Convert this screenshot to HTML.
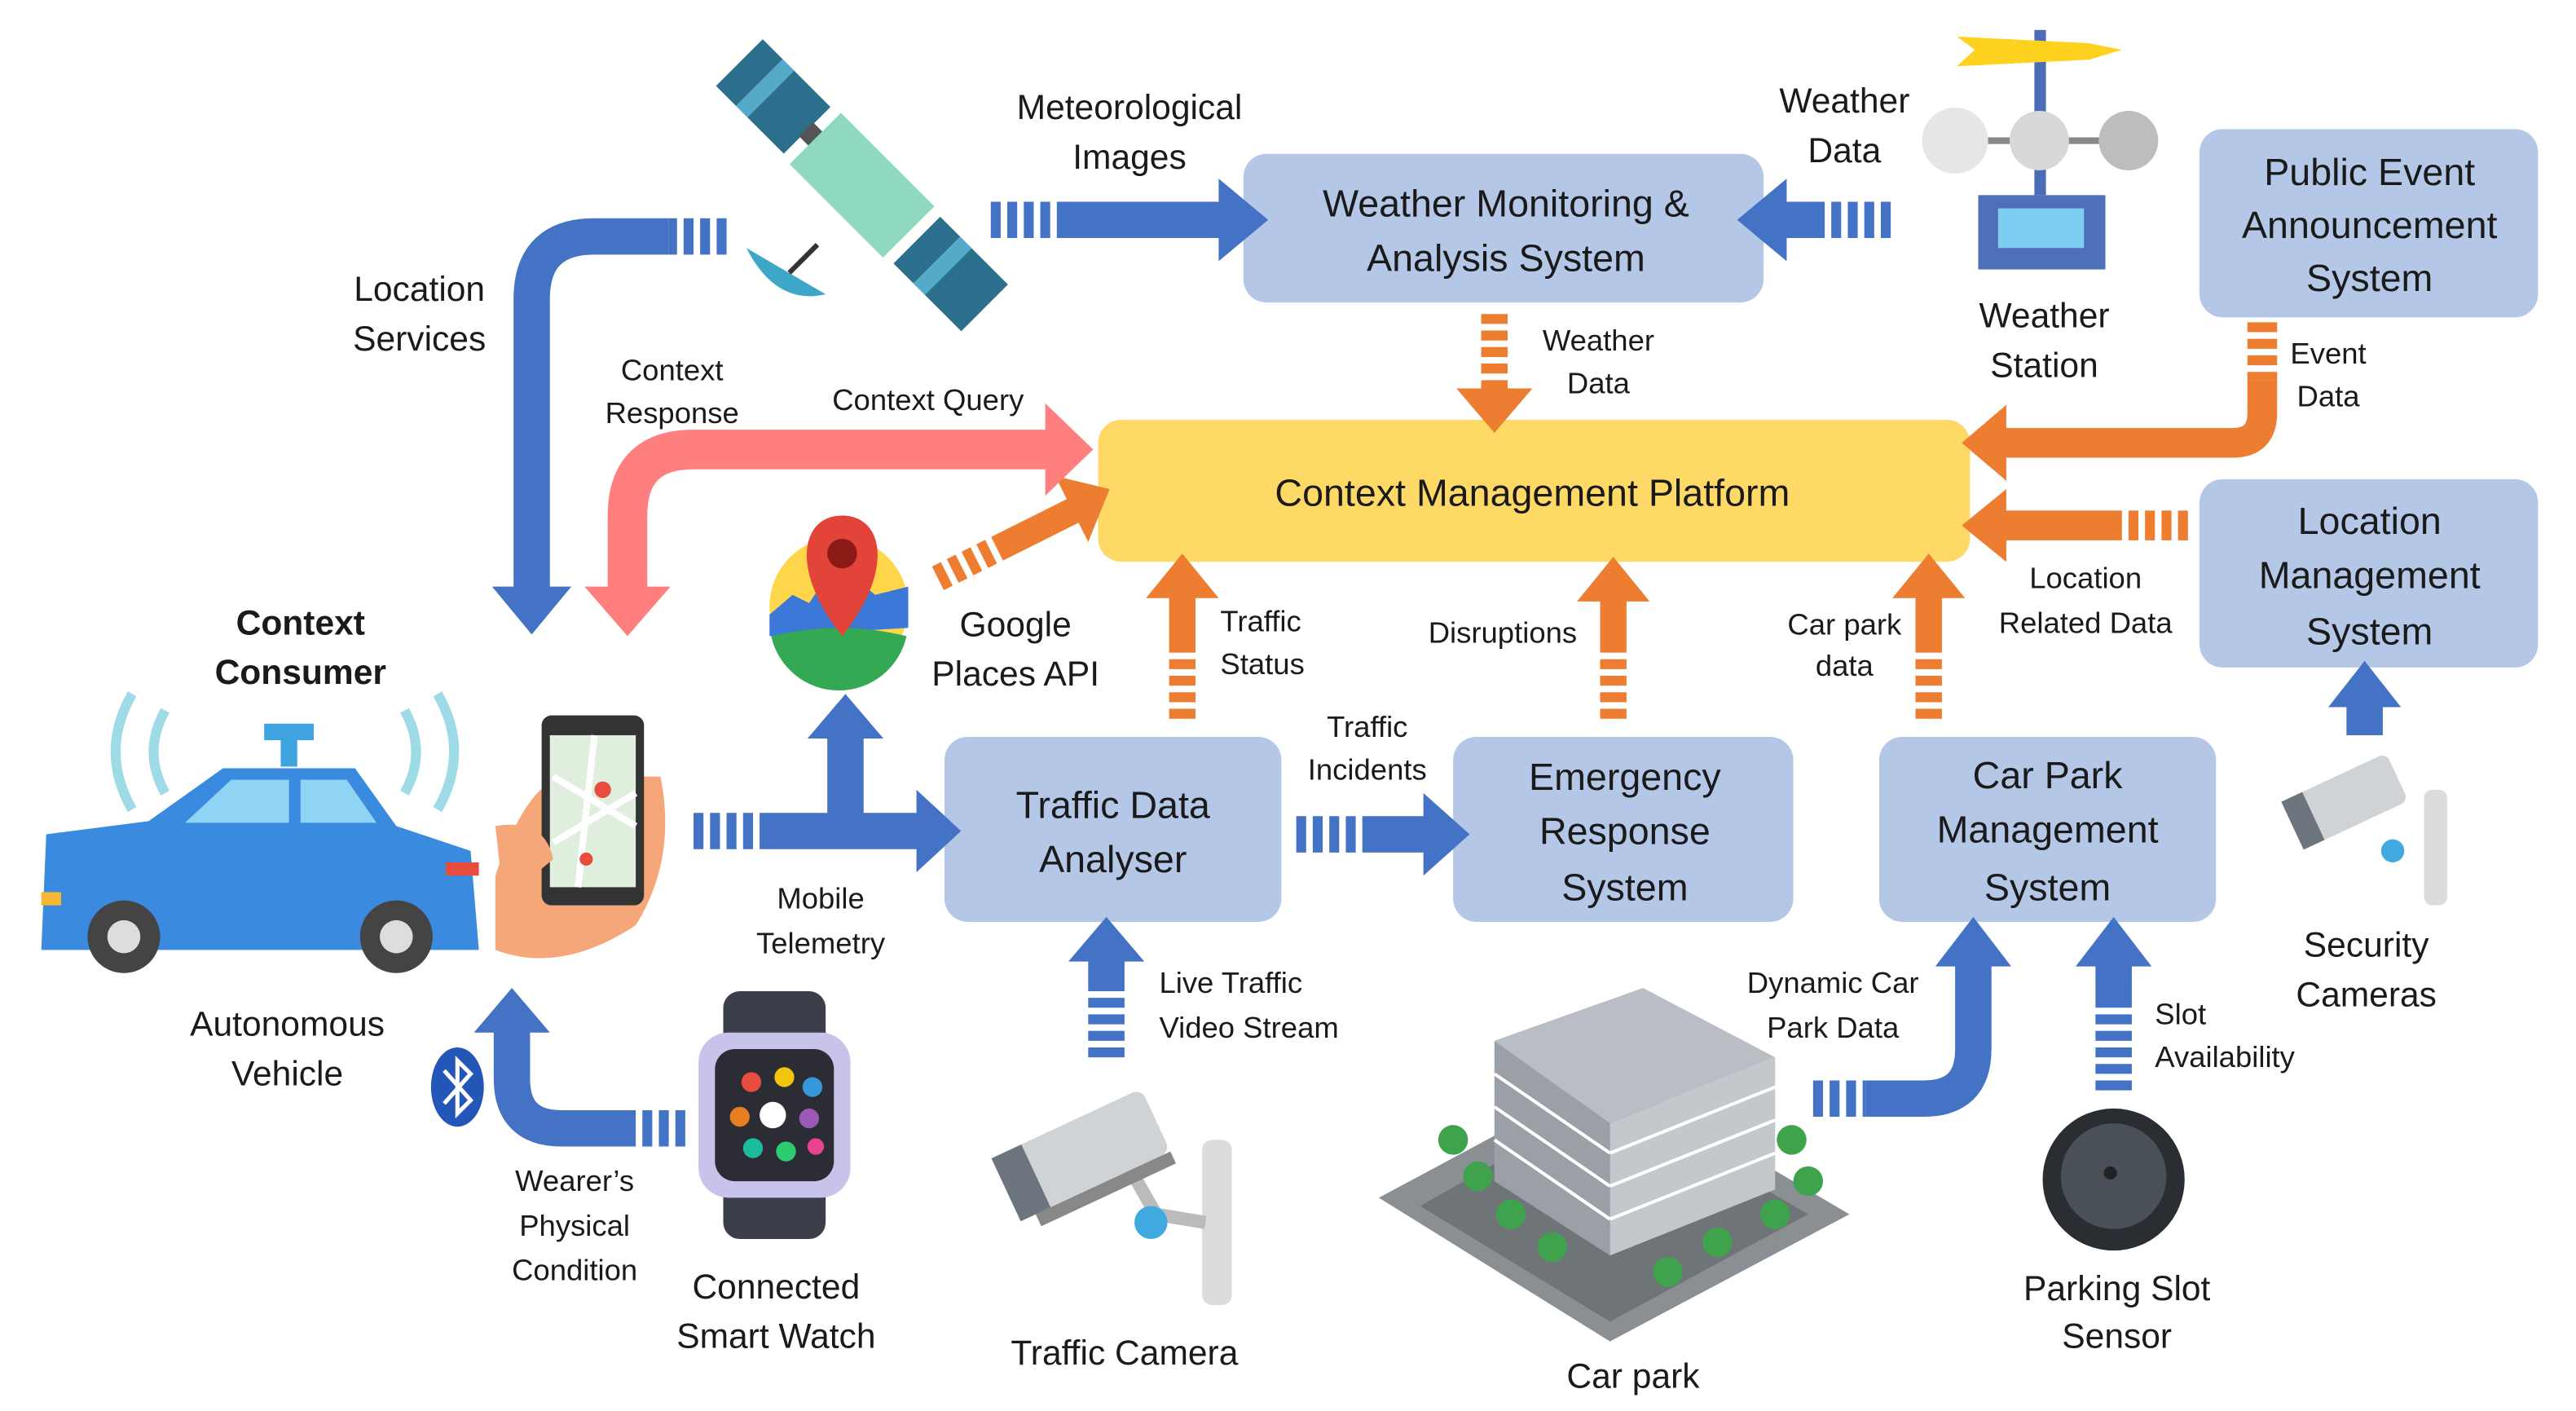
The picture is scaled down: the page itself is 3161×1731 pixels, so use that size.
<!DOCTYPE html>
<html><head><meta charset="utf-8"><style>
html,body{margin:0;padding:0;background:#fff}
svg{display:block}
text{font-family:"Liberation Sans",sans-serif;fill:#1a1a1a}
</style></head><body>
<svg width="3161" height="1731" viewBox="0 0 1560 854" xmlns="http://www.w3.org/2000/svg">
<rect width="1560" height="854" fill="#fff"/>
<g fill="#b4c7e7">
<rect x="753" y="93" width="315" height="90" rx="14"/>
<rect x="1332" y="78" width="205" height="114" rx="14"/>
<rect x="1332" y="290" width="205" height="114" rx="14"/>
<rect x="572" y="446" width="204" height="112" rx="14"/>
<rect x="880" y="446" width="206" height="112" rx="14"/>
<rect x="1138" y="446" width="204" height="112" rx="14"/>
</g>
<rect x="665" y="254" width="528" height="86" rx="14" fill="#ffd966"/>

<g fill="none" stroke-linejoin="round">
<g stroke="#4472c4">
<path d="M600,133 H640" stroke-width="22" stroke-dasharray="6 4"/><path d="M640,133 H740" stroke-width="22"/>
<path d="M1145,133 H1105" stroke-width="22" stroke-dasharray="6 4"/><path d="M1105,133 H1080" stroke-width="22"/>
<path d="M440,143 H405" stroke-width="22" stroke-dasharray="6 4"/><path d="M405,143 H360 Q322,143 322,181 V357" stroke-width="22"/>
<path d="M420,503 H460" stroke-width="22" stroke-dasharray="6 4"/><path d="M460,503 H557 M512,503 V445" stroke-width="22"/>
<path d="M785,505 H825" stroke-width="22" stroke-dasharray="6 4"/><path d="M825,505 H864" stroke-width="22"/>
<path d="M670,640 V600" stroke-width="22" stroke-dasharray="6 4"/><path d="M670,600 V580" stroke-width="22"/>
<path d="M1098,665 H1130" stroke-width="22" stroke-dasharray="6 4"/><path d="M1130,665 H1165 Q1195,665 1195,635 V583" stroke-width="22"/>
<path d="M1280,660 V610" stroke-width="22" stroke-dasharray="6 4"/><path d="M1280,610 V583" stroke-width="22"/>
<path d="M1432,445 V426" stroke-width="22"/>
<path d="M415,683 H385" stroke-width="22" stroke-dasharray="6 4"/><path d="M385,683 H340 Q310,683 310,653 V623" stroke-width="22"/>
</g>
<g stroke="#ed7d31">
<path d="M905,190 V237" stroke-width="16" stroke-dasharray="6 4"/>
<path d="M1370,195 V230" stroke-width="18" stroke-dasharray="6 4"/><path d="M1370,230 V250 Q1370,268 1352,268 H1213" stroke-width="18"/>
<path d="M1325,318 H1285" stroke-width="18" stroke-dasharray="6 4"/><path d="M1285,318 H1213" stroke-width="18"/>
<path d="M716,435 V390" stroke-width="16" stroke-dasharray="6 4"/><path d="M716,390 V360" stroke-width="16"/>
<path d="M977,435 V390" stroke-width="16" stroke-dasharray="6 4"/><path d="M977,390 V362" stroke-width="16"/>
<path d="M1168,435 V390" stroke-width="16" stroke-dasharray="6 4"/><path d="M1168,390 V360" stroke-width="16"/>
<path d="M568,350 L604,332" stroke-width="16" stroke-dasharray="6 4"/><path d="M604,332 L652,308" stroke-width="16"/>
</g>
<path d="M637,272 H420 Q380,272 380,312 V357" stroke="#ff7f7f" stroke-width="24"/>
</g>
<g fill="#4472c4">
<polygon points="738,108 768,133 738,158"/>
<polygon points="1082,108 1052,133 1082,158"/>
<polygon points="298,355 322,384 346,355"/>
<polygon points="555,478 582,503 555,528"/>
<polygon points="489,447 512,420 535,447"/>
<polygon points="862,480 890,505 862,530"/>
<polygon points="647,582 670,555 693,582"/>
<polygon points="1172,585 1195,555 1218,585"/>
<polygon points="1257,585 1280,555 1303,585"/>
<polygon points="1410,428 1432,400 1454,428"/>
<polygon points="287,625 310,598 333,625"/>
</g>
<g fill="#ed7d31">
<polygon points="882,235 905,262 928,235"/>
<polygon points="1215,245 1188,268 1215,291"/>
<polygon points="1215,296 1188,318 1215,340"/>
<polygon points="694,362 716,335 738,362"/>
<polygon points="955,364 977,337 999,364"/>
<polygon points="1146,362 1168,335 1190,362"/>
<polygon points="672,296 659,328 639,288"/>
</g>
<g fill="#ff7f7f">
<polygon points="633,244 662,272 633,300"/>
<polygon points="354,355 380,385 406,355"/>
</g>

<!-- satellite -->
<g transform="translate(522,112) rotate(-45)">
<rect x="-22" y="-40" width="44" height="80" fill="#8fd9c0"/>
<rect x="-20" y="-105" width="40" height="58" fill="#2b6f8c"/>
<rect x="-20" y="-88" width="40" height="10" fill="#55a9c9"/>
<rect x="-20" y="47" width="40" height="58" fill="#2b6f8c"/>
<rect x="-20" y="64" width="40" height="10" fill="#55a9c9"/>
<rect x="-6" y="-48" width="12" height="8" fill="#555"/>
</g>
<path d="M452,150 Q470,185 500,178 Z" fill="#3ea6c7"/>
<line x1="478" y1="165" x2="495" y2="148" stroke="#333" stroke-width="3"/>
<!-- weather station -->
<rect x="1232" y="18" width="7" height="100" fill="#4a6db5"/>
<polygon points="1185,22 1265,26 1285,30 1265,36 1185,40 1196,30" fill="#ffd21f"/>
<line x1="1170" y1="85" x2="1300" y2="85" stroke="#888" stroke-width="4"/>
<circle cx="1184" cy="85" r="20" fill="#e6e6e6"/><circle cx="1235" cy="85" r="18" fill="#d8d8d8"/><circle cx="1289" cy="85" r="18" fill="#bdbdbd"/>
<rect x="1198" y="118" width="77" height="45" fill="#4d70b8"/><rect x="1210" y="126" width="52" height="24" fill="#7ecdf2"/>
<!-- google pin -->
<circle cx="508" cy="367" r="42" fill="#ffd64a"/>
<path d="M466,372 L480,360 L490,365 L500,350 L520,352 L530,360 L550,355 L550,380 L466,385 Z" fill="#3b78d8"/>
<path d="M467,385 Q508,375 549,385 A42,42 0 0 1 467,385 Z" fill="#34a853"/>
<path d="M510,312 C485,312 478,345 510,385 C542,345 535,312 510,312 Z" fill="#e3443a"/>
<circle cx="510" cy="335" r="9" fill="#8b1a14"/>
<!-- car -->
<g fill="none" stroke="#9fdbe6" stroke-width="6">
<path d="M80,420 Q60,455 80,490"/><path d="M100,430 Q86,455 100,480"/><path d="M265,420 Q285,455 265,490"/><path d="M245,430 Q259,455 245,480"/>
</g>
<rect x="160" y="438" width="30" height="10" fill="#3fa3e0"/><rect x="170" y="446" width="10" height="18" fill="#3fa3e0"/>
<path d="M135,465 L215,465 L240,500 L285,515 L290,575 L25,575 L28,505 L90,497 Z" fill="#3a8be0"/>
<path d="M140,472 L175,472 L175,498 L112,498 Z M182,472 L210,472 L228,498 L182,498 Z" fill="#8fd3f5"/>
<rect x="25" y="540" width="12" height="8" fill="#f7b731"/><rect x="270" y="522" width="20" height="8" fill="#e74c3c"/>
<circle cx="75" cy="567" r="22" fill="#444"/><circle cx="75" cy="567" r="10" fill="#ddd"/>
<circle cx="240" cy="567" r="22" fill="#444"/><circle cx="240" cy="567" r="10" fill="#ddd"/>
<!-- phone & hand -->
<path d="M300,530 Q320,470 345,470 L400,470 Q410,520 385,560 Q340,590 300,575 Z" fill="#f5a77a"/>
<rect x="328" y="433" width="62" height="115" rx="6" fill="#333"/>
<rect x="333" y="445" width="52" height="92" fill="#dfeedd"/>
<path d="M335,470 L385,500 M360,445 L350,537 M335,510 L385,480" stroke="#fff" stroke-width="4"/>
<circle cx="365" cy="478" r="5" fill="#e74c3c"/><circle cx="355" cy="520" r="4" fill="#e74c3c"/>
<path d="M300,500 Q330,495 335,520 L305,545 Z" fill="#f5a77a"/>
<ellipse cx="277" cy="658" rx="16" ry="24" fill="#2456b8"/>
<path d="M269,648 L285,666 L277,674 L277,642 L285,650 L269,668" stroke="#fff" stroke-width="2.5" fill="none"/>
<!-- watch -->
<rect x="438" y="600" width="62" height="150" rx="10" fill="#3a3f4a"/>
<rect x="423" y="625" width="92" height="100" rx="18" fill="#c8c3ea"/>
<rect x="433" y="635" width="72" height="80" rx="12" fill="#2c2c34"/>
<g><circle cx="455" cy="655" r="6" fill="#e74c3c"/><circle cx="475" cy="652" r="6" fill="#f1c40f"/><circle cx="492" cy="658" r="6" fill="#3498db"/><circle cx="448" cy="676" r="6" fill="#e67e22"/><circle cx="468" cy="675" r="8" fill="#fff"/><circle cx="490" cy="677" r="6" fill="#9b59b6"/><circle cx="456" cy="695" r="6" fill="#1abc9c"/><circle cx="476" cy="697" r="6" fill="#2ecc71"/><circle cx="494" cy="694" r="5" fill="#e84393"/></g>
<!-- traffic camera -->
<rect x="728" y="690" width="18" height="100" rx="6" fill="#dcdcdc"/>
<path d="M680,700 L700,735 L730,740" stroke="#bbb" stroke-width="8" fill="none"/>
<circle cx="697" cy="740" r="10" fill="#3fa9e0"/>
<g transform="translate(655,700) rotate(-25)"><rect x="-50" y="-22" width="100" height="42" rx="6" fill="#cfd3d6"/><rect x="-50" y="-22" width="20" height="42" fill="#6c757d"/><rect x="-40" y="20" width="90" height="8" fill="#888"/></g>
<!-- car park -->
<polygon points="835,725 975,650 1120,735 975,812" fill="#8a8f94"/>
<polygon points="860,730 975,665 1095,735 975,800" fill="#6f7478"/>
<polygon points="905,630 995,598 1075,640 975,680" fill="#b9bec4"/>
<polygon points="905,630 975,680 975,760 905,715" fill="#9aa0a6"/>
<polygon points="975,680 1075,640 1075,720 975,760" fill="#c3c8cc"/>
<g stroke="#fff" stroke-width="2"><line x1="905" y1="650" x2="975" y2="698"/><line x1="905" y1="670" x2="975" y2="718"/><line x1="905" y1="690" x2="975" y2="738"/><line x1="975" y1="698" x2="1075" y2="658"/><line x1="975" y1="718" x2="1075" y2="678"/><line x1="975" y1="738" x2="1075" y2="698"/></g>
<g fill="#3fa34d"><circle cx="880" cy="690" r="9"/><circle cx="895" cy="712" r="9"/><circle cx="915" cy="735" r="9"/><circle cx="940" cy="755" r="9"/><circle cx="1010" cy="770" r="9"/><circle cx="1040" cy="752" r="9"/><circle cx="1075" cy="735" r="9"/><circle cx="1095" cy="715" r="9"/><circle cx="1085" cy="690" r="9"/></g>
<!-- sensor -->
<circle cx="1280" cy="714" r="43" fill="#2a2d31"/><circle cx="1280" cy="712" r="32" fill="#4a5058"/><circle cx="1278" cy="710" r="4" fill="#222"/>
<!-- security camera -->
<rect x="1468" y="478" width="14" height="70" rx="5" fill="#dcdcdc"/>
<circle cx="1449" cy="515" r="7" fill="#3fa9e0"/>
<g transform="translate(1420,485) rotate(-25)"><rect x="-35" y="-16" width="70" height="32" rx="5" fill="#cfd3d6"/><rect x="-35" y="-16" width="14" height="32" fill="#6c757d"/></g>

<g font-size="21" text-anchor="middle">
<text x="684" y="72">Meteorological</text><text x="684" y="102">Images</text>
<text x="1117" y="68">Weather</text><text x="1117" y="98">Data</text>
<text x="254" y="182">Location</text><text x="254" y="212">Services</text>
<text x="1238" y="198">Weather</text><text x="1238" y="228">Station</text>
<text x="615" y="385">Google</text><text x="615" y="415">Places API</text>
<text x="182" y="384" font-weight="bold">Context</text><text x="182" y="414" font-weight="bold">Consumer</text>
<text x="174" y="627">Autonomous</text><text x="174" y="657">Vehicle</text>
<text x="1433" y="579">Security</text><text x="1433" y="609">Cameras</text>
<text x="470" y="786">Connected</text><text x="470" y="816">Smart  Watch</text>
<text x="681" y="826">Traffic Camera</text>
<text x="989" y="840">Car park</text>
<text x="1282" y="787">Parking Slot</text><text x="1282" y="816">Sensor</text>
</g>
<g font-size="18" text-anchor="middle">
<text x="407" y="230">Context</text><text x="407" y="256">Response</text>
<text x="562" y="248">Context Query</text>
<text x="968" y="212">Weather</text><text x="968" y="238">Data</text>
<text x="1410" y="220">Event</text><text x="1410" y="246">Data</text>
<text x="1263" y="356">Location</text><text x="1263" y="383">Related Data</text>
<text x="910" y="389">Disruptions</text>
<text x="1117" y="384">Car park</text><text x="1117" y="409">data</text>
<text x="828" y="446">Traffic</text><text x="828" y="472">Incidents</text>
<text x="497" y="550">Mobile</text><text x="497" y="577">Telemetry</text>
<text x="1110" y="601">Dynamic Car</text><text x="1110" y="628">Park Data</text>
<text x="348" y="721">Wearer’s</text><text x="348" y="748">Physical</text><text x="348" y="775">Condition</text>
</g>
<g font-size="18">
<text x="739" y="382">Traffic</text><text x="739" y="408">Status</text>
<text x="702" y="601">Live Traffic</text><text x="702" y="628">Video Stream</text>
<text x="1305" y="620">Slot</text><text x="1305" y="646">Availability</text>
</g>
<g font-size="23" text-anchor="middle">
<text x="912" y="131">Weather Monitoring &amp;</text><text x="912" y="164">Analysis System</text>
<text x="1435" y="112">Public Event</text><text x="1435" y="144">Announcement</text><text x="1435" y="176">System</text>
<text x="1435" y="323">Location</text><text x="1435" y="356">Management</text><text x="1435" y="390">System</text>
<text x="674" y="495">Traffic Data</text><text x="674" y="528">Analyser</text>
<text x="984" y="478">Emergency</text><text x="984" y="511">Response</text><text x="984" y="545">System</text>
<text x="1240" y="477">Car Park</text><text x="1240" y="510">Management</text><text x="1240" y="545">System</text>
<text x="928" y="306">Context Management Platform</text>
</g>
</svg>
</body></html>
